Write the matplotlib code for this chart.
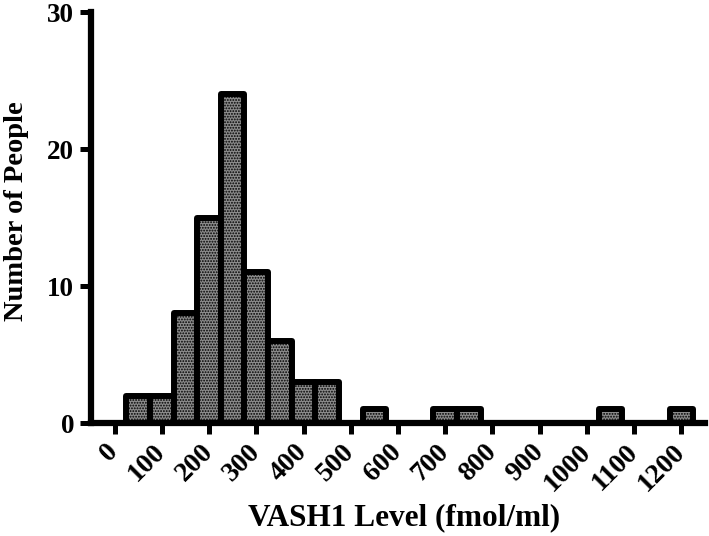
import numpy as np
import matplotlib
matplotlib.use("Agg")
import matplotlib.pyplot as plt

# === Data ===
BIN_CENTERS = [50, 100, 150, 200, 250, 300, 350, 400, 450, 550, 700, 750, 1050, 1200]
COUNTS = [2, 2, 8, 15, 24, 11, 6, 3, 3, 1, 1, 1, 1, 1]
BIN_WIDTH = 50
X_TICKS = list(range(0, 1300, 100))
Y_TICKS = [0, 10, 20, 30]

plt.rcParams.update({
    "font.family": "Liberation Serif",
    "font.weight": "bold",
    "hatch.linewidth": 0.9,
    "hatch.color": "#222222",
})

fig = plt.figure(figsize=(7.09, 5.36), dpi=100)
ax = fig.add_axes([0.1283, 0.2108, 0.8661, 0.7668])

ax.bar(BIN_CENTERS, COUNTS, width=BIN_WIDTH, color="#8c8c8c", edgecolor="black",
       linewidth=4.3, hatch="......", joinstyle="round", zorder=2)

ax.set_xlim(-50, 1250)
ax.set_ylim(0, 30)
ax.set_xticks(X_TICKS)
ax.set_xticklabels([str(t) for t in X_TICKS], rotation=45, ha="right", va="center",
                   rotation_mode="anchor", fontsize=20, fontweight="bold")
ax.set_yticks(Y_TICKS)
ax.set_yticklabels([str(t) for t in Y_TICKS], fontsize=19.5, fontweight="bold")

for side in ("top", "right"):
    ax.spines[side].set_visible(False)
for side in ("left", "bottom"):
    ax.spines[side].set_linewidth(4.5)
    ax.spines[side].set_zorder(3)
ax.tick_params(axis="both", direction="out", length=8, width=3.6, pad=4)
ax.tick_params(axis="x", pad=10)

ax.set_xlabel("VASH1 Level (fmol/ml)", fontsize=22.5, fontweight="bold")
ax.xaxis.set_label_coords(0.51, -0.195)
ax.set_ylabel("Number of People", fontsize=20.5, fontweight="bold")
ax.yaxis.set_label_coords(-0.101, 0.516)

fig.savefig("out.png", dpi=100)
